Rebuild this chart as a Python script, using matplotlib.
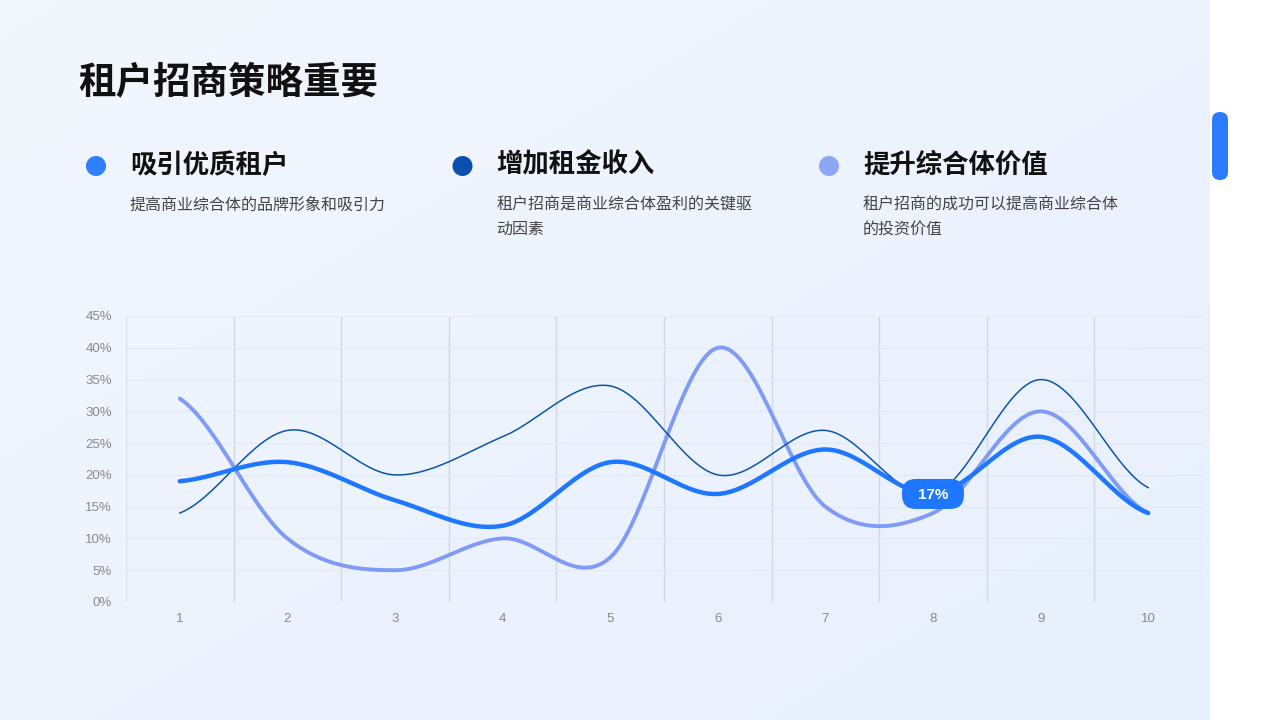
import numpy as np
import matplotlib
matplotlib.use("Agg")
from matplotlib import pyplot as plt
from matplotlib.patches import FancyBboxPatch, Circle

plt.rcParams['font.family'] = ['Noto Sans CJK SC', 'DejaVu Sans']

categories = [1, 2, 3, 4, 5, 6, 7, 8, 9, 10]
series_main = [19, 22, 16, 12, 22, 17, 24, 17, 26, 14]
series_dark = [14, 27, 20, 26, 34, 20, 27, 17, 35, 18]
series_light = [32, 10, 5, 10, 7, 40, 15, 14, 30, 14]
y_ticks = [0, 5, 10, 15, 20, 25, 30, 35, 40, 45]

title = "租户招商策略重要"
heads = ["吸引优质租户", "增加租金收入", "提升综合体价值"]
descs = ["提高商业综合体的品牌形象和吸引力",
         "租户招商是商业综合体盈利的关键驱\n动因素",
         "租户招商的成功可以提高商业综合体\n的投资价值"]
dot_colors = ["#2f7fff", "#0b4fb0", "#8ea6f6"]
latin = ['Liberation Sans', 'Noto Sans CJK SC']


def smooth(x, y, n=30, k=0.5):
    # cubic hermite curve through the points, for drawing only
    x = np.asarray(x, float)
    y = np.asarray(y, float)
    m = np.zeros_like(y)
    m[1:-1] = (y[2:] - y[:-2]) / 2 * k * 2
    m[0] = (y[1] - y[0]) * k
    m[-1] = (y[-1] - y[-2]) * k
    xs, ys = [], []
    for i in range(len(x) - 1):
        t = np.linspace(0, 1, n, endpoint=(i == len(x) - 2))
        h00 = 2*t**3 - 3*t**2 + 1
        h10 = t**3 - 2*t**2 + t
        h01 = -2*t**3 + 3*t**2
        h11 = t**3 - t**2
        xs.append(x[i] + t * (x[i+1] - x[i]))
        ys.append(h00*y[i] + h10*m[i] + h01*y[i+1] + h11*m[i+1])
    return np.concatenate(xs), np.concatenate(ys)


fig = plt.figure(figsize=(12.8, 7.2), dpi=100)
fig.patch.set_facecolor("white")

# slide background
bg = fig.add_axes([0, 0, 1, 1])
bg.set_xlim(0, 1280)
bg.set_ylim(720, 0)
bg.axis("off")
bg.set_zorder(0)
grad = np.linspace(0, 1, 256)
g = np.outer(np.linspace(0, 1, 256), np.ones(256)) * 0.5 + np.outer(np.ones(256), grad) * 0.5
c1 = np.array([0.950, 0.968, 0.996])
c2 = np.array([0.910, 0.940, 0.995])
img = c1[None, None, :] * (1 - g[..., None]) + c2[None, None, :] * g[..., None]
bg.imshow(img, extent=[0, 1210, 720, 0], aspect="auto", zorder=0)
bg.add_patch(FancyBboxPatch((1212, 112), 16, 68, boxstyle="round,pad=0,rounding_size=8",
                            fc="#2a7bff", ec="none", zorder=2))

bg.text(78, 82, title, fontsize=27, fontweight="bold", color="#111111", va="center", ha="left")
for i in range(3):
    x0 = 130 + i * 366.5
    bg.add_patch(Circle((x0 - 34, 166), 10, fc=dot_colors[i], ec="none", zorder=2))
    bg.text(x0, 165, heads[i], fontsize=19, fontweight="bold", color="#111111", va="center", ha="left")
    bg.text(x0, 197, descs[i], fontsize=11.5, color="#444444", va="top", ha="left", linespacing=1.55)

# chart
ax = fig.add_axes([126/1280, 1 - 602/720, (1202 - 126)/1280, (602 - 316)/720])
ax.set_zorder(1)
ax.set_facecolor("none")
ax.set_xlim(0.5, 10.5)
ax.set_ylim(0, 45)
for s in ax.spines.values():
    s.set_visible(False)
ax.axvline(0.5, color="#dde2ec", lw=1)
ax.axvline(10.5, color="#dde2ec", lw=1)
for b in np.arange(1.5, 10.5, 1):
    ax.axvline(b, color="#d3d9e4", lw=1, zorder=1)
for yv in y_ticks:
    ax.axhline(yv, color="#e3e9f4", lw=0.8, zorder=1)

ax.set_xticks(categories)
ax.set_xticklabels([str(c) for c in categories], family=latin)
ax.set_yticks(y_ticks)
ax.set_yticklabels([f"{v}%" for v in y_ticks], family=latin)
ax.tick_params(length=0, colors="#888888", labelsize=9.5)
ax.tick_params(axis="x", pad=8)
ax.tick_params(axis="y", pad=10)

xs, ys = smooth(categories, series_light)
ax.plot(xs, ys, color="#7f9bf5", lw=2.8, zorder=3, solid_capstyle="round")
xs, ys = smooth(categories, series_dark)
ax.plot(xs, ys, color="#0d55a8", lw=1.1, zorder=4)
xs, ys = smooth(categories, series_main)
ax.plot(xs, ys, color="#1f77ff", lw=3.2, zorder=5, solid_capstyle="round")

# value label at point 8, drawn above all lines
px, py = ax.transData.transform((categories[7], series_main[7]))
py = 720 - py
lab = fig.add_axes([0, 0, 1, 1])
lab.set_xlim(0, 1280)
lab.set_ylim(720, 0)
lab.axis("off")
lab.set_zorder(2)
lab.add_patch(FancyBboxPatch((px - 31, py - 15), 62, 30, boxstyle="round,pad=0,rounding_size=14",
                             fc="#1f77ff", ec="none"))
lab.text(px, py + 1, f"{series_main[7]}%", ha="center", va="center",
         fontsize=11, fontweight="bold", color="white", family=latin)

fig.savefig("out.png", dpi=100)
